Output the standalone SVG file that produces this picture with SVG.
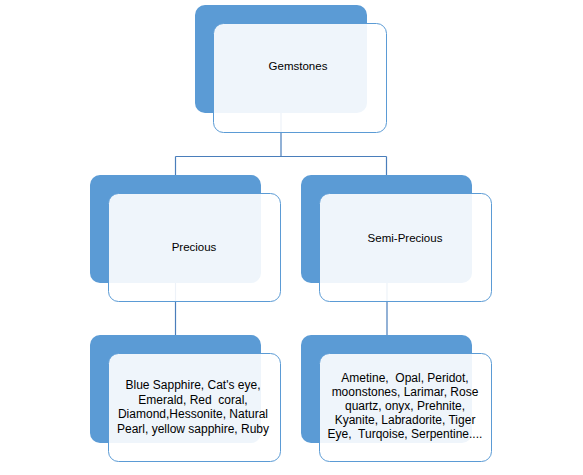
<svg xmlns="http://www.w3.org/2000/svg" width="583" height="475" viewBox="0 0 583 475">
<style>
.back{fill:#5B9BD5;}
.front{fill:#FFFFFF;fill-opacity:0.9;stroke:#5B9BD5;stroke-width:1;}
.conn{fill:none;stroke:#4A7EBB;stroke-width:1.2;}
text{font-family:"Liberation Sans",Arial,sans-serif;font-size:11.5px;fill:#000;text-anchor:middle;white-space:pre;}
.list{font-size:12px;}
</style>
<rect width="583" height="475" fill="#FFFFFF"/>
<g id="connectors">
<path class="conn" d="M281,113 V156.5 M175.5,156.5 H386.5 M175.5,156.5 V175 M386.5,156.5 V175"/>
<path class="conn" d="M175.5,283 V335"/>
<path class="conn" d="M387,283 V335"/>
</g>
<g id="gemstones">
<rect class="back" x="195" y="5" width="172" height="108" rx="10"/>
<rect class="front" x="213.5" y="23.5" width="173" height="109" rx="10"/>
<text x="298" y="70">Gemstones</text>
</g>
<g id="precious">
<rect class="back" x="90" y="175" width="171" height="108" rx="10"/>
<rect class="front" x="108.5" y="193.5" width="172" height="108" rx="10"/>
<text x="194" y="251">Precious</text>
</g>
<g id="semi-precious">
<rect class="back" x="301" y="175" width="171" height="108" rx="10"/>
<rect class="front" x="319.5" y="193.5" width="172" height="108" rx="10"/>
<text x="405" y="242">Semi-Precious</text>
</g>
<g id="precious-list">
<rect class="back" x="90" y="335" width="171" height="108" rx="10"/>
<rect class="front" x="108.5" y="353.5" width="172" height="108" rx="10"/>
<text class="list" x="193" y="389">Blue Sapphire, Cat's eye,</text>
<text class="list" x="193" y="403.5">Emerald, Red  coral,</text>
<text class="list" x="193" y="418">Diamond,Hessonite, Natural</text>
<text class="list" x="193" y="432.5">Pearl, yellow sapphire, Ruby</text>
</g>
<g id="semi-precious-list">
<rect class="back" x="301" y="335" width="171" height="108" rx="10"/>
<rect class="front" x="319.5" y="353.5" width="172" height="108" rx="10"/>
<text class="list" x="405" y="382">Ametine,  Opal, Peridot,</text>
<text class="list" x="405" y="396">moonstones, Larimar, Rose</text>
<text class="list" x="405" y="410">quartz, onyx, Prehnite,</text>
<text class="list" x="405" y="424">Kyanite, Labradorite, Tiger</text>
<text class="list" x="405" y="438">Eye,  Turqoise, Serpentine....</text>
</g>
</svg>
